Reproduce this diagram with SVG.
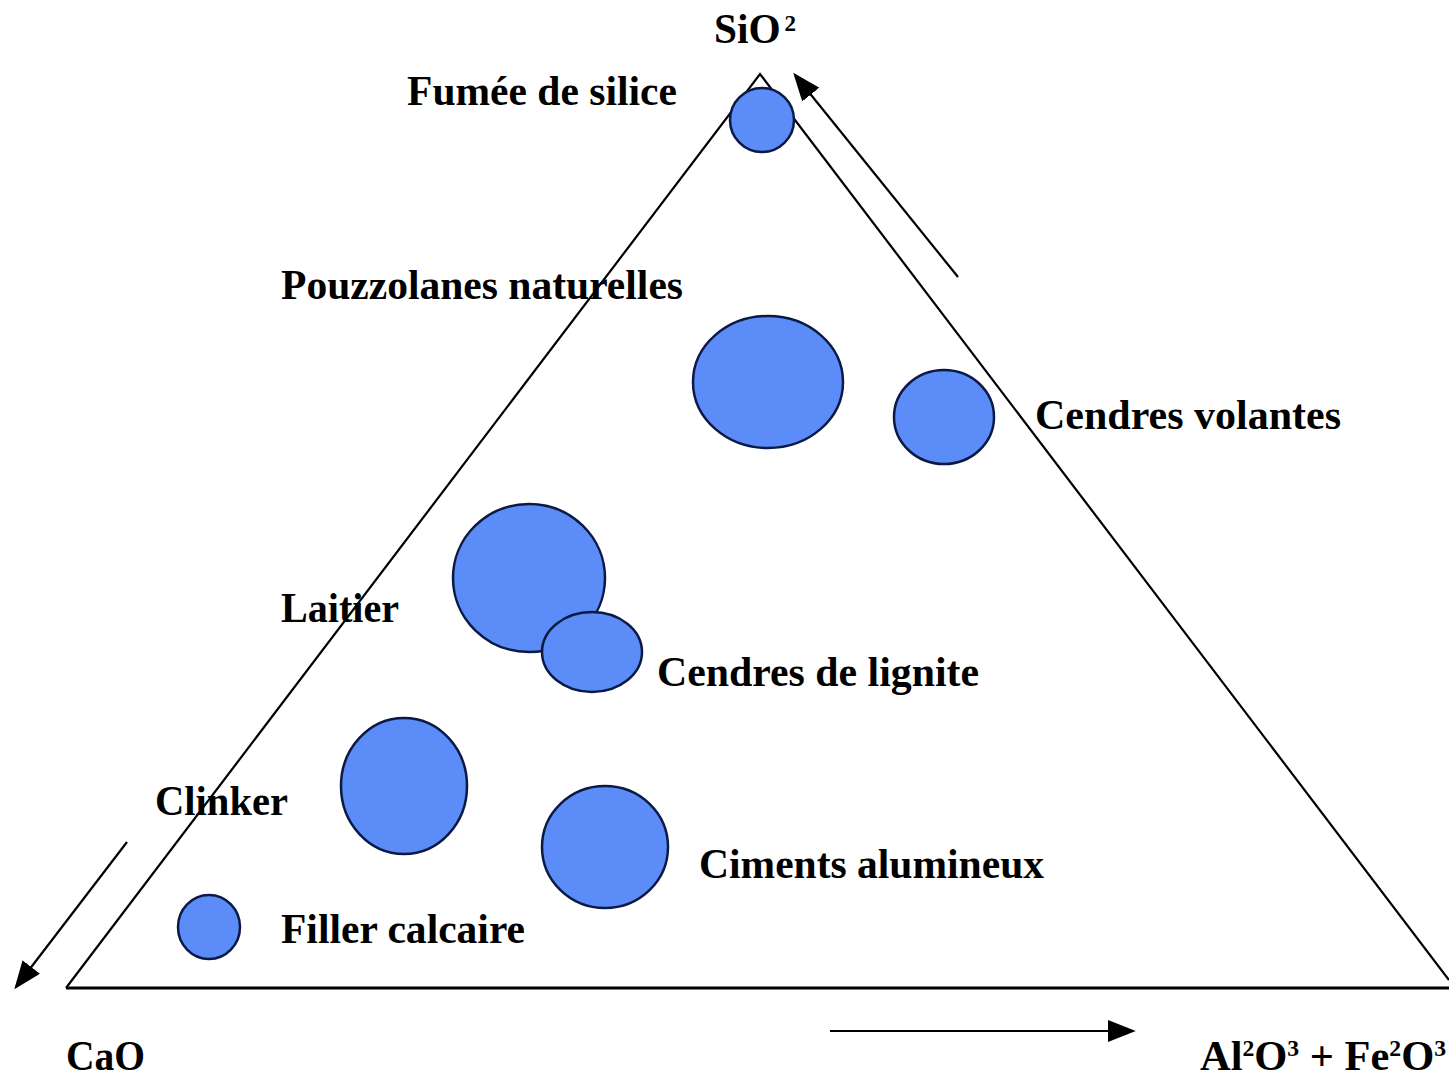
<svg xmlns="http://www.w3.org/2000/svg" width="1449" height="1077" viewBox="0 0 1449 1077">
<defs>
<style>
.t{font-family:"Liberation Serif","Times New Roman",serif;font-weight:bold;font-size:43px;fill:#000}
.sup{font-size:24px}
.b{fill:#5B8CF8;stroke:#0B1A45;stroke-width:2.5}
.ln{stroke:#000;stroke-width:2.2;fill:none}
</style>
<marker id="ah2" viewBox="0 0 10 10" refX="9" refY="5" markerWidth="28" markerHeight="22" markerUnits="userSpaceOnUse" orient="auto" preserveAspectRatio="none">
<path d="M0,0 L10,5 L0,10 z" fill="#000"/>
</marker>
</defs>
<rect width="1449" height="1077" fill="#fff"/>
<g id="triangle">
<path class="ln" d="M66,988 L760,74 L1449,980"/>
<line x1="66" y1="988" x2="1449" y2="988" stroke="#000" stroke-width="3"/>
</g>
<g id="connectors">
<line class="ln" x1="958" y1="277" x2="795" y2="75" marker-end="url(#ah2)"/>
<line class="ln" x1="127" y1="842" x2="16" y2="987" marker-end="url(#ah2)"/>
<line class="ln" x1="830" y1="1031" x2="1133" y2="1031" marker-end="url(#ah2)"/>
</g>
<g id="fumee"><circle class="b" cx="762" cy="120" r="32"/><text class="t" x="407" y="105" textLength="270" lengthAdjust="spacingAndGlyphs">Fumée de silice</text></g>
<g id="pouzzolanes"><ellipse class="b" cx="768" cy="382" rx="75" ry="66"/><text class="t" x="281" y="299" textLength="402" lengthAdjust="spacingAndGlyphs">Pouzzolanes naturelles</text></g>
<g id="cendres-volantes"><ellipse class="b" cx="944" cy="417" rx="50" ry="47"/><text class="t" x="1035" y="429" textLength="306" lengthAdjust="spacingAndGlyphs">Cendres volantes</text></g>
<g id="laitier"><ellipse class="b" cx="529" cy="578" rx="76" ry="74"/><text class="t" x="281" y="622" textLength="118" lengthAdjust="spacingAndGlyphs">Laitier</text></g>
<g id="cendres-lignite"><ellipse class="b" cx="592" cy="652" rx="50" ry="40"/><text class="t" x="657" y="686" textLength="322" lengthAdjust="spacingAndGlyphs">Cendres de lignite</text></g>
<g id="clinker"><ellipse class="b" cx="404" cy="786" rx="63" ry="68"/><text class="t" x="155" y="815" textLength="133" lengthAdjust="spacingAndGlyphs">Clinker</text></g>
<g id="ciments"><ellipse class="b" cx="605" cy="847" rx="63" ry="61"/><text class="t" x="699" y="878" textLength="345" lengthAdjust="spacingAndGlyphs">Ciments alumineux</text></g>
<g id="filler"><ellipse class="b" cx="209" cy="927" rx="31" ry="32"/><text class="t" x="281" y="943" textLength="244" lengthAdjust="spacingAndGlyphs">Filler calcaire</text></g>
<g id="sio2"><text class="t" x="714" y="43" textLength="82" lengthAdjust="spacingAndGlyphs">SiO<tspan class="sup" dx="4" dy="-12" font-size="22">2</tspan></text></g>
<g id="cao"><text class="t" x="66" y="1070" textLength="79" lengthAdjust="spacingAndGlyphs">CaO</text></g>
<g id="alfe"><text class="t" x="1200" y="1070" textLength="246" lengthAdjust="spacingAndGlyphs">Al<tspan class="sup" dy="-14">2</tspan><tspan dy="14">O</tspan><tspan class="sup" dy="-14">3</tspan><tspan dy="14"> + Fe</tspan><tspan class="sup" dy="-14">2</tspan><tspan dy="14">O</tspan><tspan class="sup" dy="-14">3</tspan></text></g>
</svg>
